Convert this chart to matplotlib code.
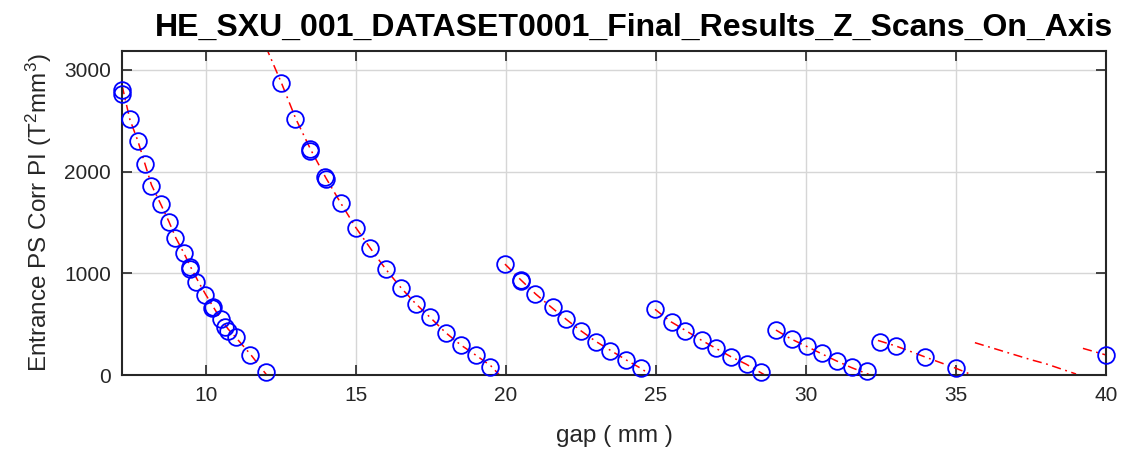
import numpy as np
import matplotlib.pyplot as plt

# measured scan points (gap in mm, corrected PI)
gap = [7.22, 7.22, 7.47, 7.74, 7.97, 8.19, 8.50, 8.77, 8.97, 9.27, 9.49, 9.47, 9.69, 9.97,
       10.24, 10.22, 10.52, 10.63, 10.75, 11.00, 11.47, 12.00,
       12.52, 12.97, 13.47, 13.49, 13.97, 13.99, 14.49, 15.02, 15.47, 16.00, 16.52, 17.00,
       17.47, 18.00, 18.52, 19.02, 19.47,
       19.97, 20.52, 20.50, 20.97, 21.56, 22.02, 22.52, 23.00, 23.47, 24.02, 24.49,
       24.97, 25.52, 25.97, 26.52, 27.00, 27.49, 28.02, 28.49,
       29.00, 29.52, 30.02, 30.52, 31.02, 31.52, 32.04,
       32.47, 33.00, 33.97, 35.00, 39.99]
pi_corr = [2800, 2760, 2514, 2304, 2075, 1858, 1681, 1507, 1344, 1203, 1059, 1045, 918, 787,
           672, 660, 548, 469, 430, 374, 197, 33,
           2874, 2514, 2219, 2205, 1944, 1930, 1688, 1442, 1246, 1039, 852, 698,
           567, 410, 295, 197, 82,
           1091, 934, 920, 796, 672, 548, 436, 328, 239, 147, 66,
           646, 524, 436, 344, 262, 180, 108, 33,
           442, 351, 285, 213, 141, 76, 42,
           328, 285, 174, 66, 197]

# fitted curves, one piece per harmonic
fit_x = [
    [7.21, 7.47, 7.74, 7.97, 8.19, 8.50, 8.77, 9.00, 9.27, 9.50, 9.75, 10.0, 10.25, 10.5, 10.75, 11.0, 11.5, 12.03],
    [12.00, 12.52, 13.00, 13.50, 14.00, 14.50, 15.00, 15.50, 16.00, 16.50, 17.00, 17.50, 18.00, 18.50, 19.00, 19.50, 19.77],
    [19.97, 20.50, 21.00, 21.50, 22.00, 22.50, 23.00, 23.50, 24.00, 24.50, 24.73],
    [24.97, 25.50, 26.00, 26.50, 27.00, 27.50, 28.00, 28.60],
    [29.00, 29.50, 30.00, 30.50, 31.00, 31.50, 32.10],
    [32.40, 33.00, 33.50, 34.00, 34.50, 35.00, 35.50],
    [35.63, 36.50, 37.00, 37.50, 38.00, 38.50, 39.00],
    [39.23, 40.00],
]
fit_y = [
    [2850, 2514, 2300, 2080, 1870, 1680, 1510, 1350, 1200, 1060, 920, 790, 670, 550, 450, 370, 200, 0],
    [3230, 2874, 2520, 2215, 1940, 1690, 1450, 1240, 1040, 860, 700, 560, 415, 295, 195, 90, 5],
    [1091, 935, 795, 670, 550, 435, 330, 240, 150, 65, 20],
    [646, 524, 436, 345, 262, 180, 108, 5],
    [442, 355, 285, 212, 141, 75, 5],
    [340, 285, 230, 174, 120, 66, 5],
    [318, 240, 195, 150, 110, 60, 10],
    [262, 197],
]

plt.rcParams['font.family'] = ['Liberation Sans', 'DejaVu Sans']
plt.rcParams['mathtext.default'] = 'regular'
dark = '#262626'

fig = plt.figure(figsize=(11.3, 4.62), dpi=100)
ax = fig.add_axes([0.108, 0.1883, 0.8708, 0.702])

for fx, fy in zip(fit_x, fit_y):
    ax.plot(fx, fy, color='red', linestyle=(0, (6, 3, 1.2, 3)), linewidth=1.1, zorder=2)
ax.plot(gap, pi_corr, 'o', markersize=12, markerfacecolor='none',
        markeredgecolor='blue', markeredgewidth=1.3, linestyle='none', zorder=3,
        clip_on=False)

ax.set_xlim(7.21, 40)
ax.set_ylim(0, 3190)
ax.set_xticks([10, 15, 20, 25, 30, 35, 40])
ax.set_yticks([0, 1000, 2000, 3000])
ax.grid(True, color='#d6d6d6', linewidth=1.0)
ax.set_axisbelow(True)
for s in ax.spines.values():
    s.set_color(dark)
    s.set_linewidth(1.5)
ax.tick_params(direction='in', length=7, width=1.2, color=dark, labelcolor=dark,
               labelsize=15, top=True, right=True, pad=8)

ax.set_title('HE_SXU_001_DATASET0001_Final_Results_Z_Scans_On_Axis',
             fontsize=23, fontweight='bold', color='black', pad=11, x=0.52)
ax.set_xlabel('gap ( mm )', fontsize=17.5, color=dark, labelpad=14)
ax.set_ylabel('Entrance PS Corr PI (T$^2$mm$^3$)', fontsize=17.5, color=dark, labelpad=7)

fig.savefig('out.png', dpi=100)
